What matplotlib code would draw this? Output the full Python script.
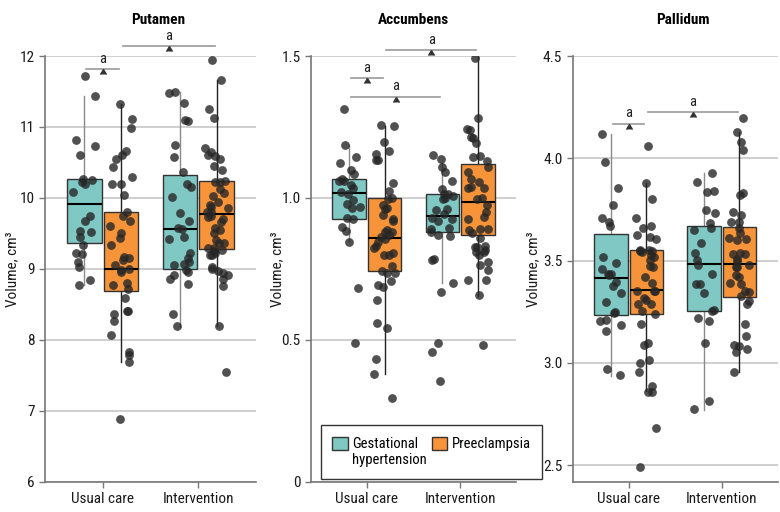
import numpy as np
import matplotlib
matplotlib.use('Agg')
import matplotlib.pyplot as plt
from matplotlib.patches import Patch, Rectangle
from matplotlib.legend_handler import HandlerPatch

plt.rcParams['font.family'] = ['Roboto Condensed', 'DejaVu Sans']

# order of boxes in every panel: usual care GH, usual care PE, intervention GH, intervention PE
GROUPS = ['Usual care', 'Intervention']
SERIES = ['Gestational\nhypertension', 'Preeclampsia\n']
COLORS = ['#7fc8c3', '#f7943a']

# ---- Putamen ----
put_uc_gh = [11.72, 11.43, 10.81, 10.73, 10.61, 10.27, 10.25, 10.22, 10.20, 10.08, 9.74, 9.67,
             9.54, 9.52, 9.45, 9.34, 9.23, 9.21, 9.10, 9.03, 8.84, 8.77]
put_uc_pe = [11.32, 11.11, 10.99, 10.66, 10.61, 10.55, 10.43, 10.29, 10.20, 10.20, 10.04, 9.80,
             9.75, 9.67, 9.60, 9.51, 9.44, 9.34, 9.17, 9.15, 9.12, 9.06, 9.00, 8.99, 8.96, 8.80,
             8.77, 8.71, 8.59, 8.40, 8.36, 8.40, 8.27, 8.07, 7.83, 7.79, 7.69, 6.89]
put_int_gh = [11.49, 11.48, 11.34, 11.10, 11.09, 10.74, 10.57, 10.36, 10.19, 10.16, 10.01, 9.79,
              9.67, 9.58, 9.56, 9.42, 9.45, 9.22, 9.15, 9.10, 9.07, 9.06, 8.98, 8.92, 8.96, 8.86,
              8.78, 8.37, 8.20]
put_int_pe = [11.95, 11.66, 11.26, 11.13, 10.71, 10.64, 10.59, 10.61, 10.55, 10.45, 10.39, 10.23,
              10.22, 10.24, 10.13, 10.07, 10.02, 9.94, 9.90, 9.86, 9.87, 9.80, 9.80, 9.74, 9.70,
              9.66, 9.73, 9.51, 9.58, 9.55, 9.40, 9.37, 9.36, 9.27, 9.25, 9.23, 9.30, 9.30, 9.20,
              9.20, 9.02, 9.00, 8.97, 8.92, 8.94, 8.85, 8.76, 8.20, 7.55]
put_q1 = [9.37, 8.69, 9.00, 9.28]
put_med = [9.92, 9.00, 9.56, 9.78]
put_q3 = [10.27, 9.80, 10.32, 10.24]
put_lo = [8.77, 7.69, 8.18, 8.20]
put_hi = [11.43, 11.32, 11.49, 11.66]
put_sig = [(0, 1, 11.81), (1, 3, 12.14)]

# ---- Accumbens ----
acc_uc_gh = [1.315, 1.186, 1.145, 1.122, 1.10, 1.084, 1.067, 1.06, 1.058, 1.034, 1.045, 1.02,
             1.013, 0.993, 0.978, 0.963, 0.967, 0.925, 0.928, 0.897, 0.884, 0.846, 0.684, 0.49]
acc_uc_pe = [1.258, 1.253, 1.197, 1.167, 1.156, 1.135, 1.132, 1.052, 1.026, 0.998, 0.996, 0.974,
             0.96, 0.963, 0.925, 0.94, 0.92, 0.888, 0.879, 0.88, 0.87, 0.863, 0.855, 0.846, 0.83,
             0.824, 0.80, 0.80, 0.805, 0.759, 0.744, 0.734, 0.736, 0.708, 0.685, 0.693, 0.639,
             0.558, 0.54, 0.434, 0.38, 0.296]
acc_int_gh = [1.15, 1.136, 1.11, 1.09, 1.033, 1.06, 1.015, 1.015, 1.0, 0.997, 1.006, 0.958, 0.96,
              0.945, 0.93, 0.92, 0.925, 0.894, 0.89, 0.868, 0.88, 0.865, 0.786, 0.782, 0.70,
              0.668, 0.488, 0.457, 0.356]
acc_int_pe = [1.492, 1.28, 1.244, 1.238, 1.216, 1.193, 1.21, 1.147, 1.143, 1.13, 1.11, 1.09,
              1.065, 1.056, 1.035, 1.036, 1.04, 0.997, 0.998, 0.975, 0.95, 0.934, 0.925, 0.89,
              0.892, 0.888, 0.876, 0.858, 0.828, 0.826, 0.83, 0.815, 0.80, 0.808, 0.81, 0.774,
              0.762, 0.747, 0.71, 0.71, 0.658, 0.48]
acc_q1 = [0.925, 0.743, 0.881, 0.868]
acc_med = [1.017, 0.858, 0.937, 0.987]
acc_q3 = [1.068, 1.0, 1.014, 1.12]
acc_lo = [0.847, 0.379, 0.70, 0.653]
acc_hi = [1.185, 1.255, 1.124, 1.498]
acc_sig = [(0, 1, 1.4225), (0, 2, 1.357), (1, 3, 1.521)]

# ---- Pallidum ----
pal_uc_gh = [4.117, 3.981, 3.857, 3.77, 3.707, 3.69, 3.667, 3.518, 3.49, 3.459, 3.434, 3.434,
             3.43, 3.378, 3.397, 3.34, 3.297, 3.243, 3.25, 3.21, 3.205, 3.186, 3.157, 2.972, 2.94]
pal_uc_pe = [4.06, 3.88, 3.80, 3.707, 3.667, 3.66, 3.623, 3.615, 3.607, 3.55, 3.552, 3.54, 3.545,
             3.53, 3.548, 3.516, 3.505, 3.472, 3.47, 3.42, 3.39, 3.35, 3.35, 3.35, 3.32, 3.31,
             3.29, 3.29, 3.254, 3.24, 3.19, 3.10, 3.09, 3.013, 3.0, 2.956, 2.887, 2.86, 2.86,
             2.683, 2.49]
pal_int_gh = [3.93, 3.885, 3.84, 3.835, 3.75, 3.733, 3.684, 3.66, 3.65, 3.588, 3.537, 3.505,
              3.477, 3.434, 3.385, 3.385, 3.344, 3.254, 3.26, 3.206, 3.22, 3.10, 2.814, 2.773]
pal_int_pe = [4.195, 4.128, 4.08, 4.04, 3.83, 3.82, 3.725, 3.74, 3.69, 3.69, 3.66, 3.635, 3.606,
              3.60, 3.61, 3.537, 3.534, 3.534, 3.51, 3.496, 3.48, 3.47, 3.47, 3.43, 3.42, 3.39,
              3.385, 3.348, 3.325, 3.35, 3.302, 3.287, 3.19, 3.132, 3.068, 3.088, 3.085, 3.054,
              2.957]
pal_q1 = [3.234, 3.238, 3.256, 3.322]
pal_med = [3.413, 3.356, 3.483, 3.486]
pal_q3 = [3.63, 3.552, 3.67, 3.666]
pal_lo = [2.938, 2.861, 2.77, 2.957]
pal_hi = [4.118, 3.88, 3.93, 4.128]
pal_sig = [(0, 1, 4.169), (1, 3, 4.226)]

POS = [-0.19, 0.19, 0.81, 1.19]
WIDTH = 0.36
FS = 10.5


def draw_panel(ax, title, points, q1, med, q3, lo, hi, sig, ylim, yticks, ylabels, title_x, seed):
    stats = [dict(med=m, q1=a, q3=b, whislo=l, whishi=h, fliers=[])
             for a, m, b, l, h in zip(q1, med, q3, lo, hi)]
    bp = ax.bxp(stats, positions=POS, widths=WIDTH, patch_artist=True, showcaps=False,
                showfliers=False, manage_ticks=False,
                boxprops=dict(edgecolor='#333333', linewidth=1.0, zorder=2),
                medianprops=dict(color='black', linewidth=1.5, zorder=3),
                whiskerprops=dict(linewidth=1.0, zorder=1.5))
    for k, box in enumerate(bp['boxes']):
        box.set_facecolor(COLORS[k % 2])
    for k, wl in enumerate(bp['whiskers']):
        wl.set_color('#8a8a8a' if (k // 2) % 2 == 0 else '#222222')

    # horizontal jitter only, values come straight from the lists
    rng = np.random.default_rng(seed)
    for p, vals in zip(POS, points):
        xs = p + rng.uniform(-0.12, 0.12, len(vals))
        ax.scatter(xs, vals, s=40, color='#262626', alpha=0.8, linewidths=0, zorder=4)

    for i, j, y in sig:
        x1, x2 = POS[i] + 0.02, POS[j] - 0.02
        xm = (x1 + x2) / 2
        ax.plot([x1, x2], [y, y], color='#9a9a9a', lw=1.2, clip_on=False, zorder=5)
        ax.plot([xm], [y], marker=6, ms=4.5, color='#333333', clip_on=False, zorder=6)
        ax.annotate('a', (xm, y), xytext=(0, 2.5), textcoords='offset points', ha='center',
                    va='bottom', fontsize=FS, color='#222222', annotation_clip=False)

    ax.set_xlim(-0.6, 1.6)
    ax.set_ylim(*ylim)
    ax.set_xticks([0, 1])
    ax.set_xticklabels(GROUPS)
    ax.set_yticks(yticks)
    ax.set_yticklabels(ylabels)
    ax.grid(axis='y', color='#cccccc', lw=1.3)
    ax.set_axisbelow(True)
    for s in ['top', 'right']:
        ax.spines[s].set_visible(False)
    for s in ['left', 'bottom']:
        ax.spines[s].set_color('#777777')
        ax.spines[s].set_linewidth(1.2)
    ax.tick_params(colors='#777777', labelcolor='#1a1a1a', labelsize=FS + 0.5, length=4, width=1)
    ax.set_ylabel('Volume, cm³', fontsize=FS + 0.5, color='#1a1a1a')
    ax.set_title(title, fontweight='bold', fontsize=FS + 0.5, x=title_x, pad=23)


def top_patch(legend, orig_handle, xdescent, ydescent, width, height, fontsize):
    # put the swatch next to the first line of a two-line label
    return Rectangle((-xdescent, -ydescent + 0.6 * fontsize), width, height)


fig = plt.figure(figsize=(7.8, 5.12), dpi=100)
ax1 = fig.add_axes([0.0577, 0.0592, 0.2705, 0.8314])
ax2 = fig.add_axes([0.3987, 0.0592, 0.2628, 0.8314])
ax3 = fig.add_axes([0.7342, 0.0592, 0.2628, 0.8314])

draw_panel(ax1, 'Putamen', [put_uc_gh, put_uc_pe, put_int_gh, put_int_pe],
           put_q1, put_med, put_q3, put_lo, put_hi, put_sig,
           (6, 12), [6, 7, 8, 9, 10, 11, 12], ['6', '7', '8', '9', '10', '11', '12'], 0.535, 1)
draw_panel(ax2, 'Accumbens', [acc_uc_gh, acc_uc_pe, acc_int_gh, acc_int_pe],
           acc_q1, acc_med, acc_q3, acc_lo, acc_hi, acc_sig,
           (0, 1.5), [0, 0.5, 1.0, 1.5], ['0', '0.5', '1.0', '1.5'], 0.5, 2)
draw_panel(ax3, 'Pallidum', [pal_uc_gh, pal_uc_pe, pal_int_gh, pal_int_pe],
           pal_q1, pal_med, pal_q3, pal_lo, pal_hi, pal_sig,
           (2.42, 4.5), [2.5, 3.0, 3.5, 4.0, 4.5], ['2.5', '3.0', '3.5', '4.0', '4.5'], 0.536, 3)

ax1.yaxis.set_label_coords(-0.123, 0.5)
ax2.yaxis.set_label_coords(-0.132, 0.5)
ax3.yaxis.set_label_coords(-0.16, 0.5)

handles = [Patch(facecolor=c, edgecolor='#333333', linewidth=1.0) for c in COLORS]
leg = fig.legend(handles, SERIES, loc='upper left', bbox_to_anchor=(0.4112, 0.1699), ncol=2,
                 frameon=True, fancybox=False, edgecolor='#333333', framealpha=1,
                 handlelength=1.05, handleheight=1.05, columnspacing=0.35, handletextpad=0.3,
                 borderpad=0.8, borderaxespad=0, fontsize=FS,
                 handler_map={Patch: HandlerPatch(patch_func=top_patch)})
leg.get_frame().set_linewidth(1.0)

fig.savefig('out.png', dpi=100)
